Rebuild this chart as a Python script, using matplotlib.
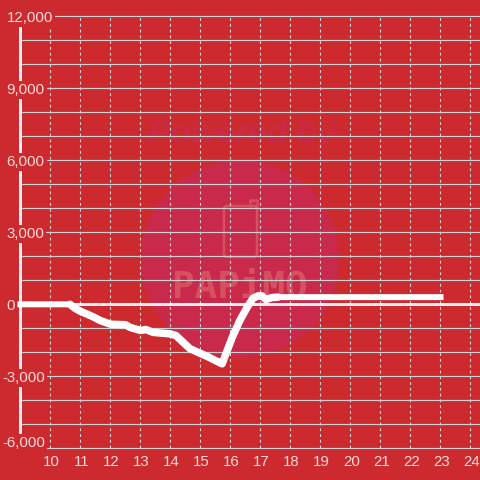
import matplotlib
matplotlib.use("Agg")
import matplotlib.pyplot as plt
from matplotlib.patches import Circle, FancyBboxPatch
from matplotlib.transforms import IdentityTransform

BG = "#cc2a2e"
TEXT = "#f5dcdc"
GRID = "#cfd2d2"
AXIS = "#efefef"
MARK = "#d6505f"

hours = [9, 10.65, 10.82, 11, 11.42, 11.65, 12, 12.5, 12.65, 13, 13.18, 13.42, 13.98, 14.18,
         14.65, 15.22, 15.72, 16.05, 16.32, 16.58, 16.75, 16.92, 17.05, 17.18, 17.38, 17.58, 23]
values = [0, 0, -170, -290, -520, -670, -830, -850, -960, -1090, -1050, -1170, -1230, -1300,
          -1850, -2170, -2480, -1400, -650, -70, 250, 350, 350, 200, 280, 300, 300]

x_ticks = list(range(10, 25))
y_grid = list(range(-6000, 13000, 1000))
y_ticks = [12000, 9000, 6000, 3000, 0, -3000, -6000]

X0 = 9
X_LIM = (8.3167, 24.3167)
Y_LIM = (-7320, 12680)


def px_x(px):
    return X_LIM[0] + px / 30


def px_y(py):
    return Y_LIM[1] - py / 0.024


def draw_watermark(ax):
    """Faint logo sitting behind the grid."""
    # circle and phone body are placed in figure pixels so they stay round
    circle = Circle((240, 480 - 259), 99, transform=IdentityTransform(),
                    fc="#c9294a", ec="none", zorder=1)
    ax.add_patch(circle)

    phone = FancyBboxPatch((224, 480 - 257), 33, 51, boxstyle="round,pad=0,rounding_size=3",
                           transform=IdentityTransform(), fc="none", ec=MARK, lw=1.8, zorder=1.2)
    ax.add_patch(phone)
    ax.plot([px_x(250.5), px_x(250.5), px_x(257), px_x(257)],
            [px_y(206), px_y(200), px_y(200), px_y(206)],
            color=MARK, lw=1.8, solid_joinstyle="round", zorder=1.2)

    ax.text(px_x(240), px_y(288), "PAPiMO", family="DejaVu Sans Mono", fontsize=27,
            fontweight="bold", color=MARK, ha="center", va="center", zorder=1.2)
    ax.text(px_x(242), px_y(134), "Powered by", family="Liberation Sans", fontsize=24,
            fontweight="bold", fontstyle="italic", color="#c92a44", ha="center",
            va="center", zorder=1.2)


def main():
    plt.rcParams["font.family"] = ["Liberation Sans", "DejaVu Sans"]

    fig = plt.figure(figsize=(4.8, 4.8), dpi=100, facecolor=BG)
    ax = fig.add_axes([0, 0, 1, 1], facecolor=BG)
    ax.set_xlim(*X_LIM)
    ax.set_ylim(*Y_LIM)
    ax.axis("off")

    draw_watermark(ax)

    ax.hlines(y_grid, X0, X_LIM[1], color=GRID, lw=0.85, zorder=2)
    ax.vlines(x_ticks, y_grid[0], y_grid[-1], color=GRID, lw=0.8, linestyles=(0, (2.6, 2.6)), zorder=2)

    ax.plot([X0, X0], [y_grid[0], y_grid[-1]], color=AXIS, lw=2.16, solid_capstyle="butt", zorder=3)
    ax.plot([X0, X_LIM[1]], [0, 0], color=AXIS, lw=2.16, solid_capstyle="butt", zorder=3)

    # flat ends are 6 px wide, the moving part of the curve reads thicker
    ax.plot(hours, values, color="white", lw=4.32, solid_capstyle="projecting",
            solid_joinstyle="round", zorder=4)
    ax.plot(hours[1:-1], values[1:-1], color="white", lw=5.4, solid_capstyle="round",
            solid_joinstyle="round", zorder=4)

    for v in y_ticks:
        offset = -18 if v < 0 else -14
        # the lowest label sits above its line so it stays clear of the x labels
        lift = 7 if v == y_ticks[-1] else 0
        ax.annotate(f"{v:,}", xy=(X0, v), xytext=(offset, lift), textcoords="offset pixels",
                    color=TEXT, fontsize=10.8, ha="left", va="center_baseline", zorder=5,
                    bbox=dict(fc=BG, ec="none", pad=1.5))

    for h in x_ticks:
        ax.annotate(str(h), xy=(h, y_grid[0]), xytext=(1, -12), textcoords="offset pixels",
                    color=TEXT, fontsize=10.8, ha="center", va="center_baseline", zorder=5)

    fig.savefig("out.png", dpi=100, facecolor=BG)


if __name__ == "__main__":
    main()
